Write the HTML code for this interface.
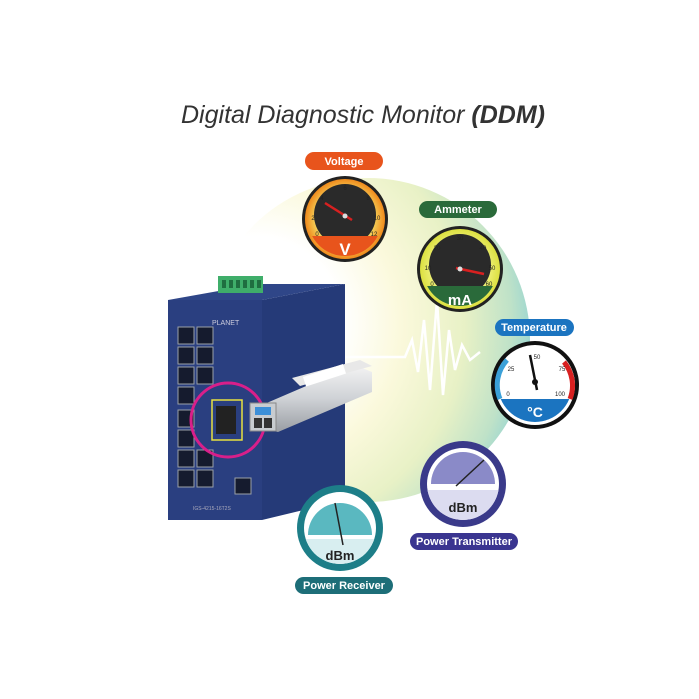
<!DOCTYPE html>
<html><head><meta charset="utf-8"><style>
html,body{margin:0;padding:0;background:#fff}
svg{display:block}
</style></head><body>
<svg width="699" height="699" viewBox="0 0 699 699" xmlns="http://www.w3.org/2000/svg" font-family="Liberation Sans, sans-serif">
<defs>
<radialGradient id="glow" cx="0.15" cy="0.45" r="0.9">
<stop offset="0" stop-color="#ffffff"/>
<stop offset="0.3" stop-color="#ffffff"/>
<stop offset="0.5" stop-color="#fbf9dc"/>
<stop offset="0.72" stop-color="#e8f1c6"/>
<stop offset="0.88" stop-color="#bfe2c8"/>
<stop offset="1" stop-color="#86cfd6"/>
</radialGradient>
<radialGradient id="vface" cx="0.5" cy="0.5" r="0.5"><stop offset="0.7" stop-color="#f4d860"/><stop offset="1" stop-color="#f08a1c"/></radialGradient>
<radialGradient id="aface" cx="0.5" cy="0.5" r="0.5"><stop offset="0.7" stop-color="#eef07a"/><stop offset="1" stop-color="#dce040"/></radialGradient>
<linearGradient id="sfp" x1="0" y1="0" x2="0" y2="1"><stop offset="0" stop-color="#f4f4f4"/><stop offset="0.5" stop-color="#cfd2d6"/><stop offset="1" stop-color="#9a9ea4"/></linearGradient>
<clipPath id="cV"><circle cx="345" cy="219" r="37"/></clipPath>
<clipPath id="cA"><circle cx="460" cy="269" r="37"/></clipPath>
<clipPath id="cT"><circle cx="535" cy="385" r="37"/></clipPath>
<clipPath id="cP"><circle cx="463" cy="484" r="36"/></clipPath>
<clipPath id="cR"><circle cx="340" cy="528" r="36"/></clipPath>
</defs>

<text x="363" y="123" text-anchor="middle" font-size="25" font-style="italic" fill="#333">Digital Diagnostic Monitor <tspan font-weight="bold">(DDM)</tspan></text>

<circle cx="368" cy="340" r="162" fill="url(#glow)"/>

<polyline points="340,357 405,357 412,340 418,372 424,320 430,390 437,300 443,395 449,330 455,370 462,345 470,360 480,352" fill="none" stroke="#fff" stroke-width="2.5"/>

<!-- switch -->
<polygon points="262,300 345,284 345,500 262,520" fill="#253a78"/>
<polygon points="168,300 262,300 345,284 258,284" fill="#2f4688"/>
<rect x="168" y="300" width="94" height="220" fill="#2a3f80"/>
<rect x="218" y="276" width="45" height="17" fill="#3fae6a"/>
<g fill="#1f6e40"><rect x="222" y="280" width="4" height="8"/><rect x="229" y="280" width="4" height="8"/><rect x="236" y="280" width="4" height="8"/><rect x="243" y="280" width="4" height="8"/><rect x="250" y="280" width="4" height="8"/><rect x="257" y="280" width="4" height="8"/></g>
<text x="212" y="325" font-size="7" fill="#ccd">PLANET</text>
<g fill="#151b2e" stroke="#9aa0a8" stroke-width="1">
<rect x="178" y="327" width="16" height="17"/><rect x="197" y="327" width="16" height="17"/>
<rect x="178" y="347" width="16" height="17"/><rect x="197" y="347" width="16" height="17"/>
<rect x="178" y="367" width="16" height="17"/><rect x="197" y="367" width="16" height="17"/>
<rect x="178" y="387" width="16" height="17"/>
<rect x="178" y="410" width="16" height="17"/>
<rect x="178" y="430" width="16" height="17"/>
<rect x="178" y="450" width="16" height="17"/><rect x="197" y="450" width="16" height="17"/>
<rect x="178" y="470" width="16" height="17"/><rect x="197" y="470" width="16" height="17"/>
<rect x="235" y="478" width="16" height="16"/>
</g>
<g fill="none" stroke="#e8e040" stroke-width="1.5"><rect x="212" y="400" width="30" height="40"/></g>
<rect x="216" y="406" width="20" height="28" fill="#222"/>
<circle cx="228" cy="420" r="37" fill="none" stroke="#d81f8a" stroke-width="3"/>
<text x="193" y="510" font-size="5" fill="#aab">IGS-4215-16T2S</text>

<!-- SFP -->
<polygon points="262,405 355,365 372,372 372,392 278,432 262,428" fill="url(#sfp)"/>
<polygon points="292,378 360,360 372,366 300,386" fill="#e8e8e8"/>
<rect x="303" y="377" width="42" height="10" fill="#fff" transform="rotate(-18 303 377)"/>
<rect x="250" y="403" width="26" height="28" fill="#c8ccd0" stroke="#888"/>
<rect x="255" y="407" width="16" height="8" fill="#3c8fd8"/>
<rect x="254" y="418" width="8" height="10" fill="#333"/><rect x="264" y="418" width="8" height="10" fill="#333"/>

<!-- Voltage -->
<circle cx="345" cy="219" r="43" fill="#222"/>
<circle cx="345" cy="219" r="40" fill="url(#vface)"/>
<circle cx="345" cy="215" r="31" fill="#2a2a2a"/>
<rect x="300" y="236" width="90" height="30" fill="#e8541c" clip-path="url(#cV)"/>
<text x="345" y="255" font-size="17" font-weight="bold" fill="#fff" text-anchor="middle">V</text>
<line x1="325" y1="203" x2="352" y2="220" stroke="#d82020" stroke-width="2.5"/>
<circle cx="345" cy="216" r="2.5" fill="#ddd"/>
<g font-size="6" fill="#222" text-anchor="middle"><text x="317" y="236">0</text><text x="313" y="220">2</text><text x="322" y="200">4</text><text x="345" y="190">6</text><text x="368" y="200">8</text><text x="377" y="220">10</text><text x="374" y="236">12</text></g>
<rect x="305" y="152" width="78" height="18" rx="9" fill="#e8541c"/>
<text x="344" y="165" font-size="11" font-weight="bold" fill="#fff" text-anchor="middle">Voltage</text>

<!-- Ammeter -->
<circle cx="460" cy="269" r="43" fill="#222"/>
<circle cx="460" cy="269" r="40" fill="url(#aface)"/>
<circle cx="460" cy="265" r="31" fill="#2a2a2a"/>
<rect x="415" y="286" width="90" height="30" fill="#2a6a3a" clip-path="url(#cA)"/>
<text x="460" y="305" font-size="15" font-weight="bold" fill="#fff" text-anchor="middle">mA</text>
<line x1="456" y1="268" x2="484" y2="274" stroke="#d82020" stroke-width="2.5"/>
<circle cx="460" cy="269" r="2.5" fill="#ddd"/>
<g font-size="6" fill="#222" text-anchor="middle"><text x="432" y="286">0</text><text x="428" y="270">10</text><text x="437" y="250">20</text><text x="460" y="240">30</text><text x="483" y="250">40</text><text x="492" y="270">50</text><text x="489" y="286">60</text></g>
<rect x="419" y="201" width="78" height="17" rx="8.5" fill="#2a6a3a"/>
<text x="458" y="213" font-size="11" font-weight="bold" fill="#fff" text-anchor="middle">Ammeter</text>

<!-- Temperature -->
<circle cx="535" cy="385" r="44" fill="#111"/>
<circle cx="535" cy="385" r="40" fill="#fff"/>
<path d="M500,399 A37,37 0 0 1 507,360" fill="none" stroke="#3aa0d8" stroke-width="5"/>
<path d="M564,362 A37,37 0 0 1 570,399" fill="none" stroke="#d82020" stroke-width="5"/>
<rect x="495" y="399" width="80" height="30" fill="#1b74c0" clip-path="url(#cT)"/>
<text x="535" y="417" font-size="14" font-weight="bold" fill="#fff" text-anchor="middle">°C</text>
<line x1="530" y1="355" x2="537" y2="390" stroke="#111" stroke-width="2.5"/>
<circle cx="535" cy="382" r="3" fill="#111"/>
<g font-size="6" fill="#222" text-anchor="middle"><text x="508" y="396">0</text><text x="511" y="371">25</text><text x="537" y="359">50</text><text x="562" y="371">75</text><text x="560" y="396">100</text></g>
<rect x="495" y="319" width="79" height="17" rx="8.5" fill="#1b74c0"/>
<text x="534" y="331" font-size="11" font-weight="bold" fill="#fff" text-anchor="middle">Temperature</text>

<!-- Power Transmitter -->
<circle cx="463" cy="484" r="43" fill="#3a3a8a"/>
<circle cx="463" cy="484" r="36" fill="#fff"/>
<path d="M431,484 A32,32 0 0 1 495,484 Z" fill="#8a8ac8"/>
<rect x="420" y="490" width="90" height="40" fill="#dcdcf0" clip-path="url(#cP)"/>
<text x="463" y="512" font-size="13" font-weight="bold" fill="#222" text-anchor="middle">dBm</text>
<line x1="456" y1="486" x2="484" y2="460" stroke="#222" stroke-width="1.5"/>
<rect x="410" y="533" width="108" height="17" rx="8.5" fill="#3a3590"/>
<text x="464" y="545" font-size="11" font-weight="bold" fill="#fff" text-anchor="middle">Power Transmitter</text>

<!-- Power Receiver -->
<circle cx="340" cy="528" r="43" fill="#1d7e88"/>
<circle cx="340" cy="528" r="36" fill="#fff"/>
<path d="M308,535 A32,32 0 0 1 372,535 Z" fill="#5ab8c0"/>
<rect x="300" y="539" width="90" height="40" fill="#d8eef0" clip-path="url(#cR)"/>
<text x="340" y="560" font-size="13" font-weight="bold" fill="#222" text-anchor="middle">dBm</text>
<line x1="335" y1="503" x2="343" y2="545" stroke="#222" stroke-width="1.5"/>
<rect x="295" y="577" width="98" height="17" rx="8.5" fill="#1d6e78"/>
<text x="344" y="589" font-size="11" font-weight="bold" fill="#fff" text-anchor="middle">Power Receiver</text>
</svg>
</body></html>
